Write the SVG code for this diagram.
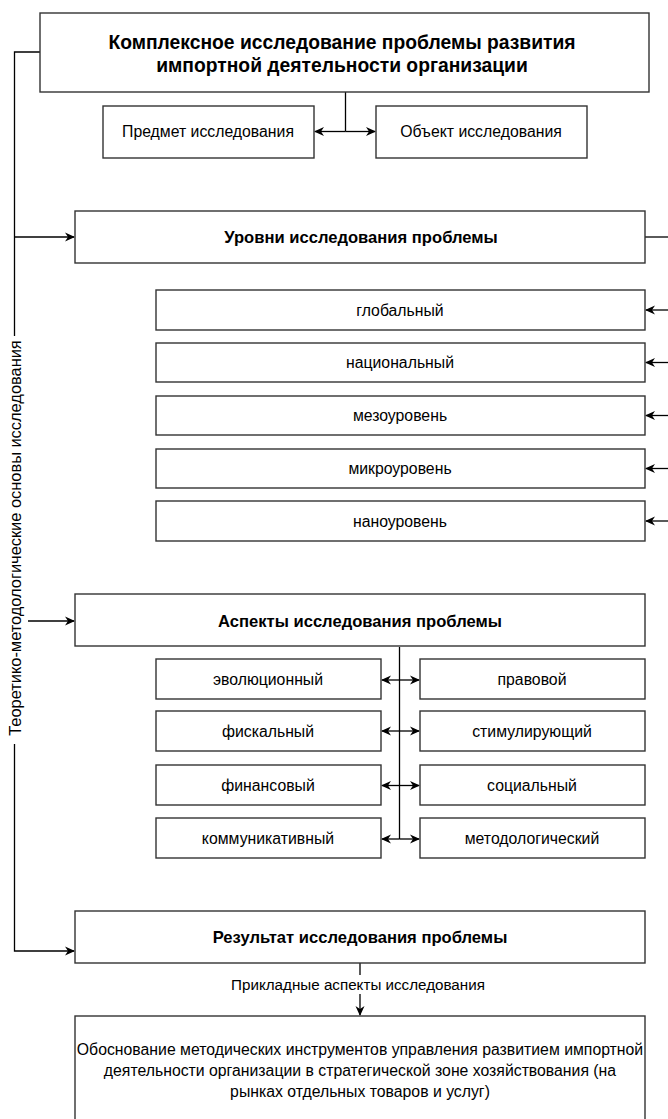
<svg xmlns="http://www.w3.org/2000/svg" width="668" height="1119" viewBox="0 0 668 1119">
<style>
.box{fill:#fff;stroke:#333;stroke-width:1.4}
.ln{fill:none;stroke:#000;stroke-width:1.3}
.t{font-family:"Liberation Sans",Arial,sans-serif;font-size:15.8px;fill:#000;text-anchor:middle}
.b{font-weight:bold;font-size:16.6px}
.h{font-weight:bold;font-size:19.3px}
</style>
<defs>
<marker id="ar" viewBox="0 0 10 10" refX="9" refY="5" markerWidth="10" markerHeight="10" markerUnits="userSpaceOnUse" orient="auto-start-reverse">
<path d="M0,0.5 L10,5 L0,9.5 L3,5 z" fill="#000"/>
</marker>
</defs>
<rect width="668" height="1119" fill="#fff"/>
<g id="connectors">
<path class="ln" d="M40,52 H14.5 V336"/>
<path class="ln" d="M14.5,744 V951 H74" marker-end="url(#ar)"/>
<path class="ln" d="M14.5,237 H74" marker-end="url(#ar)"/>
<path class="ln" d="M28,621 H74" marker-end="url(#ar)"/>
<path class="ln" d="M345.5,92 V131.5"/>
<path class="ln" d="M345.5,131.5 H315" marker-end="url(#ar)"/>
<path class="ln" d="M345.5,131.5 H375" marker-end="url(#ar)"/>
<path class="ln" d="M645,237 H668"/>
<path class="ln" d="M668,310 H646" marker-end="url(#ar)"/>
<path class="ln" d="M668,362.5 H646" marker-end="url(#ar)"/>
<path class="ln" d="M668,415.5 H646" marker-end="url(#ar)"/>
<path class="ln" d="M668,468.5 H646" marker-end="url(#ar)"/>
<path class="ln" d="M668,521 H646" marker-end="url(#ar)"/>
<path class="ln" d="M399.5,647 V839"/>
<path class="ln" d="M399.5,680 H382" marker-end="url(#ar)"/>
<path class="ln" d="M399.5,680 H419" marker-end="url(#ar)"/>
<path class="ln" d="M399.5,731 H382" marker-end="url(#ar)"/>
<path class="ln" d="M399.5,731 H419" marker-end="url(#ar)"/>
<path class="ln" d="M399.5,785.5 H382" marker-end="url(#ar)"/>
<path class="ln" d="M399.5,785.5 H419" marker-end="url(#ar)"/>
<path class="ln" d="M399.5,839 H382" marker-end="url(#ar)"/>
<path class="ln" d="M399.5,839 H419" marker-end="url(#ar)"/>
<path class="ln" d="M360,963 V975"/>
<path class="ln" d="M360,994 V1015" marker-end="url(#ar)"/>
<text class="t" x="358" y="990" style="font-size:15.2px">Прикладные аспекты исследования</text>
<text class="t" transform="translate(20.5,538) rotate(-90)" style="font-size:16.4px">Теоретико-методологические основы исследования</text>
</g>
<g id="n-main"><rect class="box" x="40" y="13" width="609" height="79"/>
<text class="t h" x="342" y="49">Комплексное исследование проблемы развития</text>
<text class="t h" x="342" y="72">импортной деятельности организации</text></g>
<g id="n-predmet"><rect class="box" x="103" y="106" width="211" height="52"/><text class="t" x="208" y="137">Предмет исследования</text></g>
<g id="n-object"><rect class="box" x="376" y="106" width="211" height="52"/><text class="t" x="481" y="137">Объект исследования</text></g>
<g id="n-levels"><rect class="box" x="75" y="211" width="570" height="52"/><text class="t b" x="361" y="243">Уровни исследования проблемы</text></g>
<g id="n-l1"><rect class="box" x="156" y="290" width="489" height="40"/><text class="t" x="400" y="315.5">глобальный</text></g>
<g id="n-l2"><rect class="box" x="156" y="343" width="489" height="39"/><text class="t" x="400" y="368">национальный</text></g>
<g id="n-l3"><rect class="box" x="156" y="396" width="489" height="39"/><text class="t" x="400" y="421">мезоуровень</text></g>
<g id="n-l4"><rect class="box" x="156" y="449" width="489" height="39"/><text class="t" x="400" y="474">микроуровень</text></g>
<g id="n-l5"><rect class="box" x="156" y="501" width="489" height="40"/><text class="t" x="400" y="526.5">наноуровень</text></g>
<g id="n-aspects"><rect class="box" x="75" y="594" width="570" height="52"/><text class="t b" x="360" y="627">Аспекты исследования проблемы</text></g>
<g id="n-a1"><rect class="box" x="156" y="659" width="225" height="40"/><text class="t" x="268" y="685">эволюционный</text></g>
<g id="n-a2"><rect class="box" x="420" y="659" width="225" height="40"/><text class="t" x="532" y="685">правовой</text></g>
<g id="n-a3"><rect class="box" x="156" y="711" width="225" height="40"/><text class="t" x="268" y="737">фискальный</text></g>
<g id="n-a4"><rect class="box" x="420" y="711" width="225" height="40"/><text class="t" x="532" y="737">стимулирующий</text></g>
<g id="n-a5"><rect class="box" x="156" y="765" width="225" height="40"/><text class="t" x="268" y="791">финансовый</text></g>
<g id="n-a6"><rect class="box" x="420" y="765" width="225" height="40"/><text class="t" x="532" y="791">социальный</text></g>
<g id="n-a7"><rect class="box" x="156" y="818" width="225" height="40"/><text class="t" x="268" y="844">коммуникативный</text></g>
<g id="n-a8"><rect class="box" x="420" y="818" width="225" height="40"/><text class="t" x="532" y="844">методологический</text></g>
<g id="n-result"><rect class="box" x="75" y="911" width="570" height="52"/><text class="t b" x="360" y="943">Результат исследования проблемы</text></g>
<g id="n-final"><rect class="box" x="75" y="1016" width="570" height="130"/>
<text class="t" x="360" y="1055">Обоснование методических инструментов управления развитием импортной</text>
<text class="t" x="360" y="1076">деятельности организации в стратегической зоне хозяйствования (на</text>
<text class="t" x="360" y="1097">рынках отдельных товаров и услуг)</text></g>
</svg>
